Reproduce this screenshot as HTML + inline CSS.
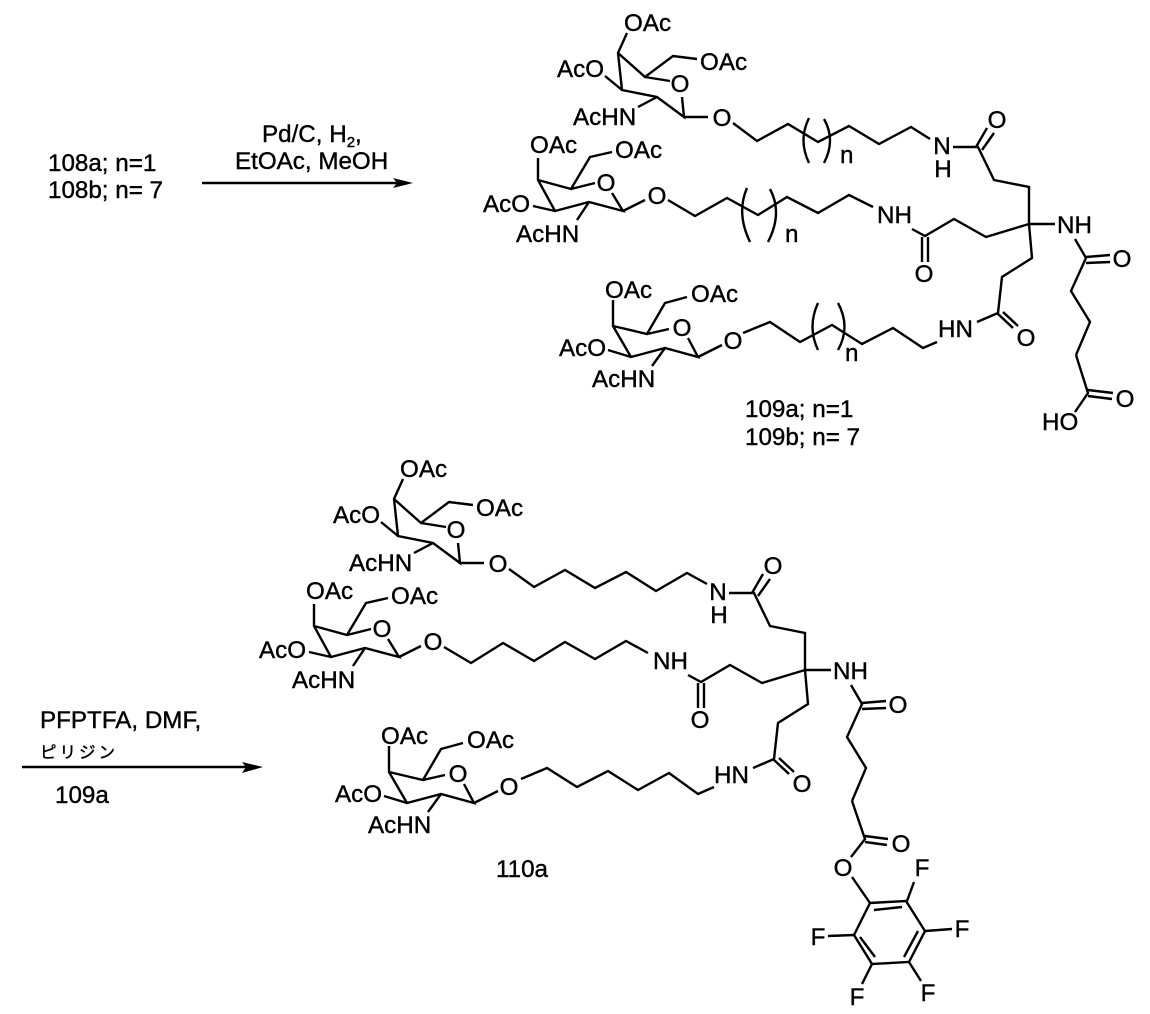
<!DOCTYPE html>
<html><head><meta charset="utf-8"><style>
html,body{margin:0;padding:0;background:#fff;width:1150px;height:1014px;overflow:hidden}
svg{display:block}
text{font-family:"Liberation Sans","Noto Sans CJK JP",sans-serif;font-size:24.2px;fill:#000;stroke:#000;stroke-width:.4}
.m{text-anchor:middle}
path{fill:none;stroke:#000;stroke-width:2.4;stroke-linejoin:miter}
</style></head><body>
<svg width="1150" height="1014" viewBox="0 0 1150 1014" xmlns="http://www.w3.org/2000/svg">
<text x="48" y="171">108a; n=1</text>
<text x="48" y="198">108b; n= 7</text>
<text x="262" y="142">Pd/C, H<tspan font-size="15" dy="5">2</tspan><tspan dy="-5">,</tspan></text>
<text x="235" y="169">EtOAc, MeOH</text>
<path d="M202 183H398"/><polygon points="393,178 413,183 393,188 397,183"/>

<text x="40" y="728">PFPTFA, DMF,</text>
<text x="40" y="758" style="font-size:16.5px;letter-spacing:3px">ピリジン</text>
<path d="M22 767H248"/><polygon points="242,762 263,767 242,773 246,767"/>
<text x="55" y="803">109a</text>
<text x="496" y="877">110a</text>
<text x="745" y="417">109a; n=1</text>
<text x="745" y="445">109b; n= 7</text>

<!-- Top product sugars and core -->
<g>
<text x="624" y="31">OAc</text><text x="700" y="70">OAc</text><text x="557" y="77">AcO</text><text x="573" y="125">AcHN</text>
<text class="m" x="680" y="92">O</text><text class="m" x="722" y="126">O</text>
<path d="M627 33L618 53L622 90L657 97L684 117L682 97M618 53L645 77L673 56L697 59M645 77L670 81M605 76L622 90M638 107L657 97M684 117H708"/>
<text x="530" y="153">OAc</text><text x="615" y="158">OAc</text><text x="483" y="212">AcO</text><text x="516" y="242">AcHN</text>
<text class="m" x="606" y="191">O</text><text class="m" x="657" y="204">O</text>
<path d="M538 158V180L555 211L589 202L623 211L612 193M538 180L571 189L590 157L612 152M571 189L595 183M533 206L555 211M589 202L577 220M623 211L645 200"/>
<text x="605" y="298">OAc</text><text x="691" y="302">OAc</text><text x="559" y="356">AcO</text><text x="592" y="387">AcHN</text>
<text class="m" x="682" y="336">O</text><text class="m" x="733" y="349">O</text>
<path d="M613 300V326L631 357L665 348L698 357L688 338M613 326L647 334L665 303L687 297M647 334L669 329M608 350L631 357M665 348L652 366M698 357L722 345"/>
<text class="m" x="942" y="154">N</text><text class="m" x="943" y="177">H</text>
<text class="m" x="997" y="128">O</text><text x="877" y="223">NH</text><text class="m" x="924" y="282">O</text>
<text x="1057" y="233">NH</text><text class="m" x="1122" y="267">O</text><text x="938" y="337">HN</text><text class="m" x="1026" y="346">O</text>
<path d="M953 147H978L994 180L1029 187L1029 224L1032 258L1002 277L998 313M976 147L987 128M982 150L994 133M1029 224H1055M1029 224L986 237L954 219L925 236L912 229M922 237V262M928 237V262M997 313L1013 328M1003 312L1018 326M998 313L977 322M1075 239L1086 258L1071 291L1090 322L1076 355"/>
<path d="M1086 257L1110 255M1086 263L1110 262"/>
</g>

<!-- Top chains -->
<path d="M733 123L757 141L788 124L818 142L849 126L879 144L911 127L930 139"/>
<path d="M668 200L695 216L727 198L758 215L787 197L818 213L849 195L873 207"/>
<path d="M743 333L770 322L800 342L832 325L862 344L893 328L923 348L937 342"/>
<path d="M809 118Q798 140 809 163M824 119Q836 140 824 163"/>
<path d="M747 188Q736 213 750 242M770 189Q783 213 768 242"/>
<path d="M818 303Q807 327 818 350M838 303Q851 327 838 350"/>
<text x="840" y="163">n</text><text x="785" y="242">n</text><text x="845" y="361">n</text>
<path d="M1076 355L1088 393L1075 412M1088 390L1113 393M1088 396L1112 399"/>
<text class="m" x="1125" y="407">O</text><text x="1042" y="430">HO</text>

<!-- Bottom product sugars and core -->
<g transform="translate(-224,446)">
<text x="624" y="31">OAc</text><text x="700" y="70">OAc</text><text x="557" y="77">AcO</text><text x="573" y="125">AcHN</text>
<text class="m" x="680" y="92">O</text><text class="m" x="722" y="126">O</text>
<path d="M627 33L618 53L622 90L657 97L684 117L682 97M618 53L645 77L673 56L697 59M645 77L670 81M605 76L622 90M638 107L657 97M684 117H708"/>
<text x="530" y="153">OAc</text><text x="615" y="158">OAc</text><text x="483" y="212">AcO</text><text x="516" y="242">AcHN</text>
<text class="m" x="606" y="191">O</text><text class="m" x="657" y="204">O</text>
<path d="M538 158V180L555 211L589 202L623 211L612 193M538 180L571 189L590 157L612 152M571 189L595 183M533 206L555 211M589 202L577 220M623 211L645 200"/>
<text x="605" y="298">OAc</text><text x="691" y="302">OAc</text><text x="559" y="356">AcO</text><text x="592" y="387">AcHN</text>
<text class="m" x="682" y="336">O</text><text class="m" x="733" y="349">O</text>
<path d="M613 300V326L631 357L665 348L698 357L688 338M613 326L647 334L665 303L687 297M647 334L669 329M608 350L631 357M665 348L652 366M698 357L722 345"/>
<text class="m" x="942" y="154">N</text><text class="m" x="943" y="177">H</text>
<text class="m" x="997" y="128">O</text><text x="877" y="223">NH</text><text class="m" x="924" y="282">O</text>
<text x="1057" y="233">NH</text><text class="m" x="1122" y="267">O</text><text x="938" y="337">HN</text><text class="m" x="1026" y="346">O</text>
<path d="M953 147H978L994 180L1029 187L1029 224L1032 258L1002 277L998 313M976 147L987 128M982 150L994 133M1029 224H1055M1029 224L986 237L954 219L925 236L912 229M922 237V262M928 237V262M997 313L1013 328M1003 312L1018 326M998 313L977 322M1075 239L1086 258L1071 291L1090 322L1076 355"/>
<path d="M1086 257L1110 255M1086 263L1110 262"/>
</g>

<!-- Bottom chains -->
<path d="M509 569L534 587L565 570L595 588L626 572L656 591L687 573L707 584"/>
<path d="M444 647L471 663L503 643L534 661L565 642L595 659L626 641L648 653"/>
<path d="M521 779L547 768L577 787L608 771L638 790L669 773L698 794L714 787"/>

<!-- Ester + C6F5 -->
<path d="M852 801L865 839L851 857M865 836L888 839M865 842L887 845"/>
<text class="m" x="901" y="852">O</text><text class="m" x="843" y="876">O</text>
<path d="M852 877L870 903L906 901L925 931L909 962L872 964L854 935L870 903M874 910L902 907M918 931L904 957M875 957L860 937"/>
<path d="M907 901L914 882M925 931L952 929M854 935L828 936M872 964L862 984M909 962L921 981"/>
<text class="m" x="922" y="876">F</text><text class="m" x="962" y="937">F</text><text class="m" x="818" y="945">F</text>
<text class="m" x="857" y="1005">F</text><text class="m" x="928" y="1001">F</text>
</svg>
</body></html>
